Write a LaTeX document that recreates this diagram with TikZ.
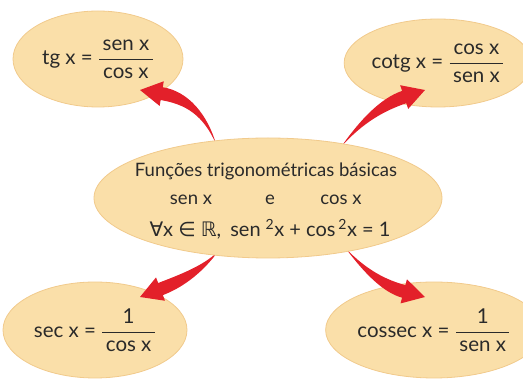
\documentclass[tikz,border=0pt]{standalone}
\usepackage{fontspec}
\setmainfont{Lato}
\newfontfamily\symf{DejaVu Sans}
\usetikzlibrary{shapes.geometric,calc}
\definecolor{peach}{HTML}{FADFA9}
\definecolor{peachline}{HTML}{F1CA8C}
\definecolor{arrred}{HTML}{E3202A}
\definecolor{ink}{HTML}{2A2A2A}
\newcommand\fr[2]{$\displaystyle\frac{\hbox{\,#1\,}}{\hbox{\,#2\,}}$}
\pgfdeclarelayer{front}
\pgfsetlayers{main,front}
% tapered arrow: #1 tail, #2 control, #3 tip
\newcommand\taper[3]{%
  \coordinate (hb) at ($(#3)!22pt!(#2)$);
  \coordinate (q1) at ($(#1)!0.667!(#2)$);
  \coordinate (q2) at ($(hb)!0.667!(#2)$);
  \fill[arrred] (#1) .. controls ($(q1)!2pt!90:(#2)$) and ($(q2)!6.5pt!90:(hb)$) .. ($(hb)!6.5pt!90:(#3)$)
    -- ($(hb)!12.5pt!90:(#3)$) -- (#3) -- ($(hb)!12.5pt!-90:(#3)$)
    -- ($(hb)!6.5pt!-90:(#3)$) .. controls ($(q2)!6.5pt!-90:(hb)$) and ($(q1)!2pt!-90:(#2)$) .. (#1) -- cycle;}
\begin{document}
\begin{tikzpicture}[x=1pt,y=-1pt,
  bubble/.style={ellipse,fill=peach,draw=peachline,line width=0.8pt,inner sep=0pt,text=ink},
  fbig/.style={font=\fontsize{20.5}{24}\selectfont},
  fmid/.style={font=\fontsize{18.5}{22}\selectfont,text=ink},
  fline/.style={font=\fontsize{20}{24}\selectfont,text=ink},
  ]
\useasboundingbox (0,0) rectangle (523,379);
\node[bubble,fbig,minimum width=170,minimum height=96] (tl) at (98,59) {tg x = \fr{sen x}{cos x}};
\node[bubble,fbig,minimum width=169,minimum height=88] (tr) at (438,63) {cotg x = \fr{cos x}{sen x}};
\node[bubble,fbig,minimum width=184,minimum height=96] (bl) at (95,330) {sec x = \fr{1}{cos x}};
\node[bubble,fbig,minimum width=174,minimum height=96] (br) at (434,330) {cossec x = \fr{1}{sen x}};
\begin{pgfonlayer}{front}
\node[bubble,minimum width=348,minimum height=120] (c) at (268,198) {};
\node[fmid,anchor=base] (l1) at (266,177) {Funções trigonométricas básicas};
\node[fmid,anchor=base] (l2a) at (191,205) {sen x};
\node[fmid,anchor=base] (l2b) at (270,205) {e};
\node[fmid,anchor=base] (l2c) at (341,205) {cos x};
\node[fline,anchor=base] (l3) at (270,237) {{\symf ∀}x {\symf ∈} {\symf ℝ},\hspace{0.2em} sen\hspace{0.25em}\textsuperscript{2}x + cos\hspace{0.15em}\textsuperscript{2}x = 1};
\end{pgfonlayer}
\coordinate (p1) at ($(tl.center)+(42,31)$);
\coordinate (p2) at ($(tr.center)+(-13,27)$);
\coordinate (p3) at ($(bl.center)+(45,-33)$);
\coordinate (p4) at ($(br.center)+(-9,-33)$);
\coordinate (k1) at (200,100);
\coordinate (k2) at (372,108);
\coordinate (k3) at (197,275);
\coordinate (k4) at (376,284);
\coordinate (s1) at ($(c.134)!5pt!(c.center)$);
\coordinate (s2) at ($(c.35)!5pt!(c.center)$);
\coordinate (s3) at ($(c.-133)!5pt!(c.center)$);
\coordinate (s4) at ($(c.-33)!5pt!(c.center)$);
\taper{s1}{k1}{p1}
\taper{s2}{k2}{p2}
\taper{s3}{k3}{p3}
\taper{s4}{k4}{p4}
\end{tikzpicture}
\end{document}
